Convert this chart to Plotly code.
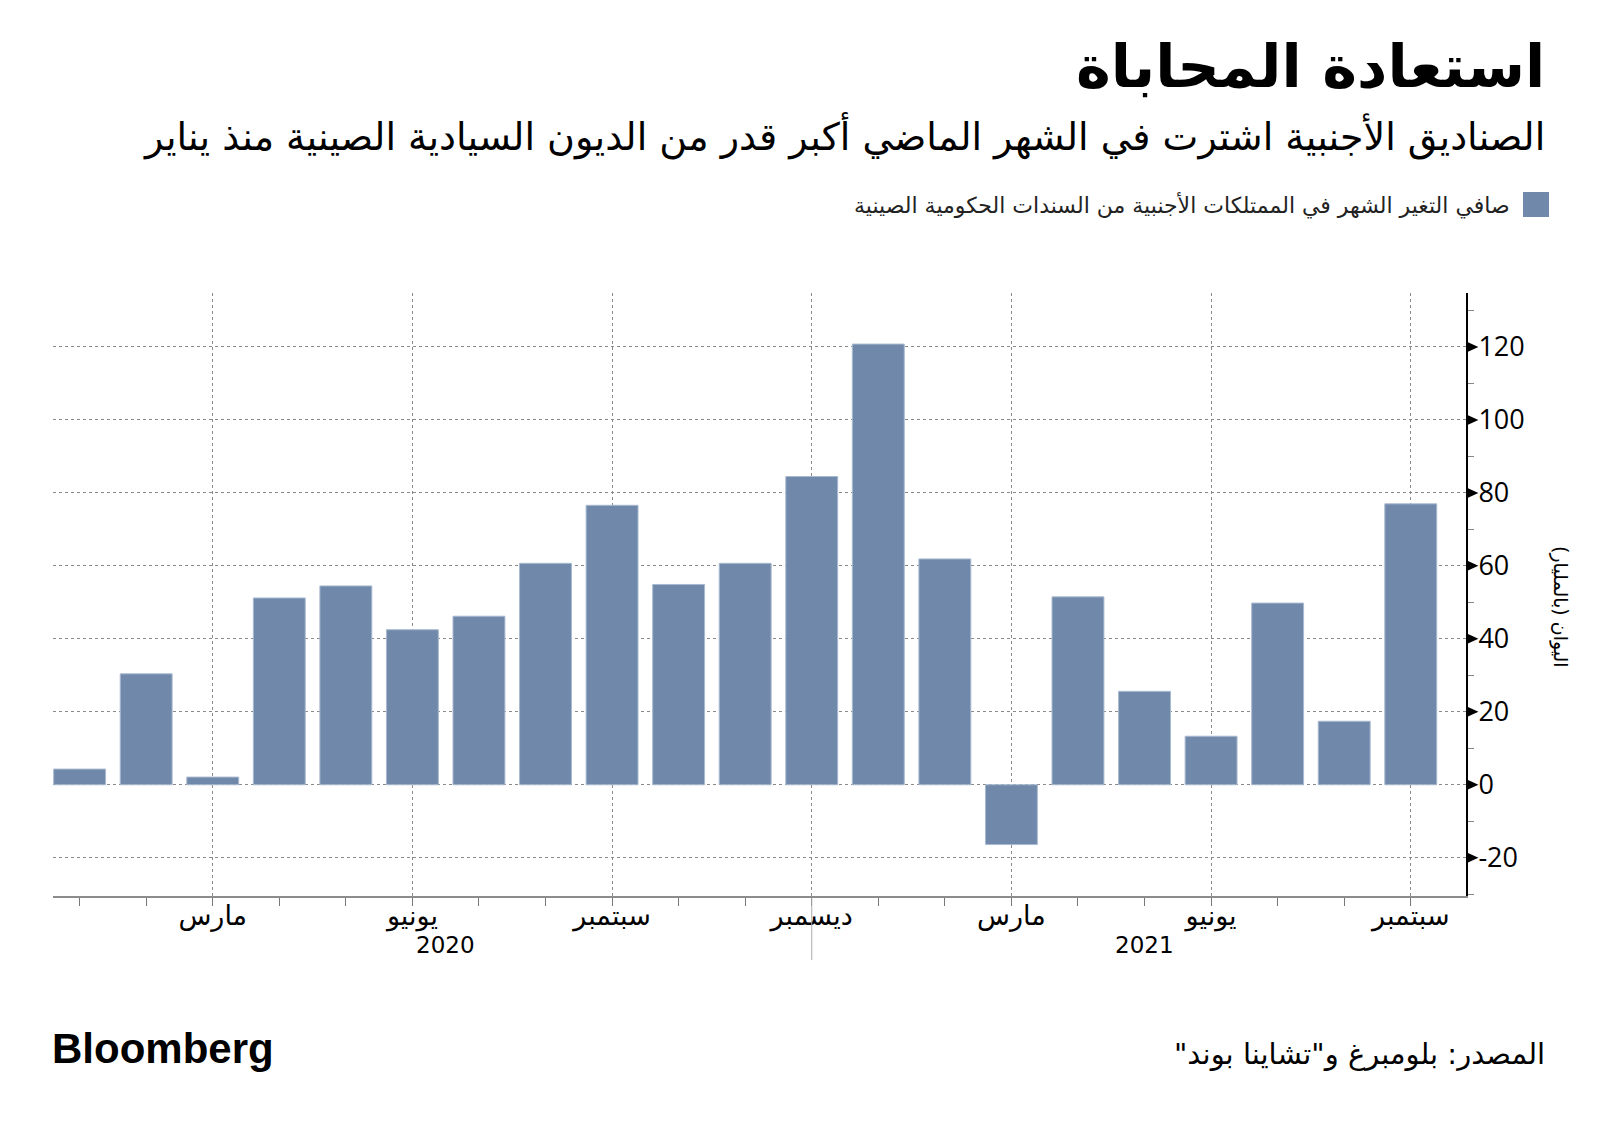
import plotly.graph_objects as go

# ---- data ----
months = ["2020-01", "2020-02", "2020-03", "2020-04", "2020-05", "2020-06", "2020-07",
          "2020-08", "2020-09", "2020-10", "2020-11", "2020-12", "2021-01", "2021-02",
          "2021-03", "2021-04", "2021-05", "2021-06", "2021-07", "2021-08", "2021-09"]
net_change = [4.3, 30.4, 2.1, 51.2, 54.5, 42.5, 46.2, 60.7, 76.6, 54.9, 60.7, 84.5,
              120.8, 61.9, -16.4, 51.5, 25.6, 13.3, 49.8, 17.4, 77.0]
tick_months = ["2020-03", "2020-06", "2020-09", "2020-12", "2021-03", "2021-06", "2021-09"]
tick_labels = ["مارس", "يونيو", "سبتمبر", "ديسمبر", "مارس", "يونيو", "سبتمبر"]
years = ["2020", "2021"]
y_ticks = [-20, 0, 20, 40, 60, 80, 100, 120]

RLM = "\u200f"
def rtl(s):
    return RLM + s + RLM

title = "استعادة المحاباة"
subtitle = "الصناديق الأجنبية اشترت في الشهر الماضي أكبر قدر من الديون السيادية الصينية منذ يناير"
legend_text = "صافي التغير الشهر في الممتلكات الأجنبية من السندات الحكومية الصينية"
y_title = "اليوان (بالمليار)"
source = 'المصدر: بلومبرغ و"تشاينا بوند"'

BAR = "#7089aa"
AR_FONT = "DejaVu Sans"

x_idx = list(range(len(months)))
tickvals = [months.index(m) for m in tick_months]

X0, X1 = -0.40, 20.83
Y0, Y1 = -30.5, 134.8

# plot-area geometry in pixels
PL, PR, PT, PB = 53, 1466, 293, 896
W, H = PR - PL, PB - PT
def px(x):
    return (x - PL) / W
def py(y):
    return (PB - y) / H

fig = go.Figure()
fig.add_trace(go.Bar(
    x=x_idx, y=net_change,
    marker=dict(color=BAR, line=dict(color="#a9bad0", width=1)),
    showlegend=False, hoverinfo="y",
))

fig.update_layout(
    width=1600, height=1127,
    margin=dict(l=PL, r=1600 - PR, t=PT, b=1127 - PB, pad=0),
    plot_bgcolor="white", paper_bgcolor="white",
    bargap=0.22,
    showlegend=False,
    font=dict(family=AR_FONT, color="black"),
)
fig.update_xaxes(
    range=[X0, X1],
    tickmode="array", tickvals=tickvals, ticktext=[rtl(t) for t in tick_labels],
    ticks="outside", ticklen=8, tickcolor="#777777", tickwidth=1,
    ticklabelstandoff=-13,
    tickfont=dict(family=AR_FONT, size=27, color="black"),
    showgrid=True, gridcolor="#8a8a8a", griddash="dot", gridwidth=1,
    showline=True, linecolor="#8c8c8c", linewidth=2,
    minor=dict(tick0=0, dtick=1, ticks="outside", ticklen=8, tickcolor="#777777", showgrid=False),
    zeroline=False,
)
fig.update_yaxes(
    range=[Y0, Y1], side="right",
    tickmode="array", tickvals=y_ticks, ticktext=[str(v) for v in y_ticks],
    ticks="", ticklabelstandoff=5,
    tickfont=dict(family="Open Sans", size=27, color="black"),
    showgrid=True, gridcolor="#8a8a8a", griddash="dot", gridwidth=1,
    showline=True, linecolor="black", linewidth=2,
    minor=dict(tick0=10, dtick=20, ticks="outside", ticklen=6, tickcolor="#888888", showgrid=False),
    zeroline=False,
)

ann = []
ann.append(dict(text=rtl(title), x=px(1547), y=py(66), xanchor="right", yanchor="middle",
                font=dict(family=AR_FONT, size=59, color="black", weight="bold")))
ann.append(dict(text=rtl(subtitle), x=px(1547), y=py(136), xanchor="right", yanchor="middle",
                font=dict(family=AR_FONT, size=38, color="black")))
ann.append(dict(text=rtl(legend_text), x=px(1512), y=py(205), xanchor="right", yanchor="middle",
                font=dict(family=AR_FONT, size=22, color="#222222")))
ann.append(dict(text=rtl(y_title), x=px(1561), y=py(607), xanchor="center", yanchor="middle",
                textangle=90, font=dict(family=AR_FONT, size=19, color="black")))
year_pos = [(0 + 11) / 2, (12 + 20) / 2]
for yr, xp in zip(years, year_pos):
    ann.append(dict(text=yr, x=xp, xref="x", y=py(945), yref="paper", xanchor="center",
                    yanchor="middle", font=dict(family=AR_FONT, size=23, color="black")))
ann.append(dict(text="<b>Bloomberg</b>", x=px(50), y=py(1048), xanchor="left", yanchor="middle",
                font=dict(family="Liberation Sans", size=42, color="black")))
ann.append(dict(text=rtl(source), x=px(1547), y=py(1054), xanchor="right", yanchor="middle",
                font=dict(family=AR_FONT, size=29, color="black")))
for a in ann:
    a.setdefault("xref", "paper")
    a.setdefault("yref", "paper")
    a["showarrow"] = False
fig.update_layout(annotations=ann)

# triangle markers at each major y tick (paper x, data y)
tri_w = 11 / W                       # triangle length in paper units
tri_h = 5 / H * (Y1 - Y0)            # half-height in data units
shapes = []
for v in y_ticks:
    shapes.append(dict(
        type="path", xref="paper", yref="y",
        path=f"M 1.001,{v - tri_h} L {1.001 + tri_w},{v} L 1.001,{v + tri_h} Z",
        fillcolor="black", line=dict(width=0), layer="above"))
shapes += [
    dict(type="rect", xref="paper", yref="paper", x0=px(1523), x1=px(1549), y0=py(192), y1=py(217),
         fillcolor=BAR, line=dict(width=0)),
    dict(type="line", xref="x", yref="paper", x0=11, x1=11, y0=py(898), y1=py(960),
         line=dict(color="#aaaaaa", width=1)),
]
fig.update_layout(shapes=shapes)

fig.write_html("out.html", config={"displayModeBar": False},
               post_script="document.body.style.margin='0';")
